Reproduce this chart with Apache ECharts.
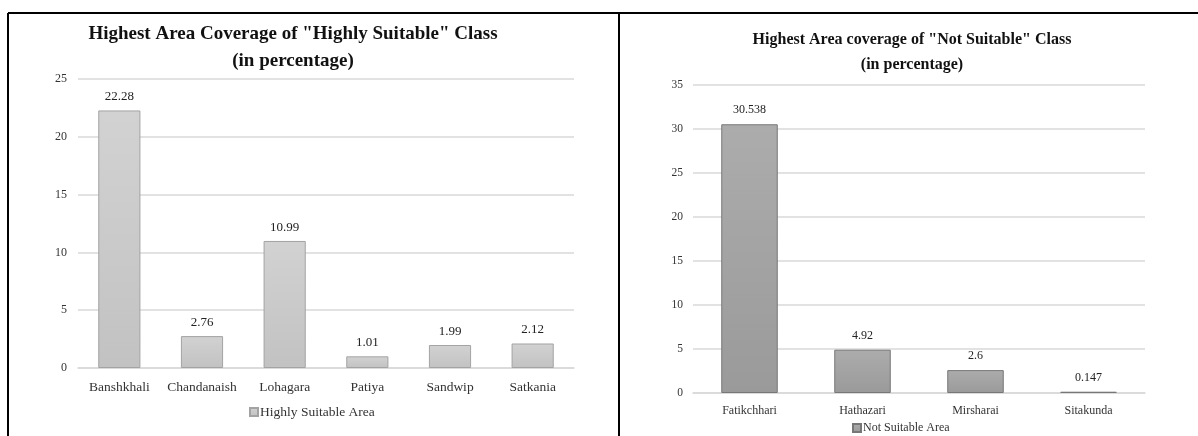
<!DOCTYPE html>
<html>
<head>
<meta charset="utf-8">
<script src="https://cdn.jsdelivr.net/npm/echarts@6/dist/echarts.min.js"></script>
<style>
  html, body { margin: 0; padding: 0; background: #fff; }
  #main { width: 1198px; height: 436px; }
</style>
</head>
<body>
<div id="main"></div>
<script>
// left chart: highly suitable
var hsCategories = ['Banshkhali', 'Chandanaish', 'Lohagara', 'Patiya', 'Sandwip', 'Satkania'];
var hsValues = [22.28, 2.76, 10.99, 1.01, 1.99, 2.12];
var hsAxis = { min: 0, max: 25, interval: 5 };

// right chart: not suitable
var nsCategories = ['Fatikchhari', 'Hathazari', 'Mirsharai', 'Sitakunda'];
var nsValues = [30.538, 4.92, 2.6, 0.147];
var nsAxis = { min: 0, max: 35, interval: 5 };

var serif = 'Liberation Serif, Times New Roman, serif';
var gridLine = { lineStyle: { color: '#d9d9d9', width: 1.5 } };

function grad(top, bottom) {
    return new echarts.graphic.LinearGradient(0, 0, 0, 1, [
        { offset: 0, color: top },
        { offset: 1, color: bottom }
    ]);
}

var myChart = echarts.init(document.getElementById('main'));

var option = {
    backgroundColor: '#fff',
    animation: false,
    title: [{
        text: 'Highest Area Coverage of "Highly Suitable" Class\n(in percentage)',
        left: 293,
        top: 21,
        padding: 0,
        textAlign: 'center',
        textStyle: { fontFamily: serif, fontWeight: 'bold', fontSize: 19, lineHeight: 27, color: '#111' }
    }, {
        text: 'Highest Area coverage of "Not Suitable" Class\n(in percentage)',
        left: 912,
        top: 27,
        padding: 0,
        textAlign: 'center',
        textStyle: { fontFamily: serif, fontWeight: 'bold', fontSize: 16, lineHeight: 25, color: '#111' }
    }],
    legend: [{
        data: ['Highly Suitable Area'],
        left: 249,
        top: 405,
        padding: 0,
        itemWidth: 8,
        itemHeight: 8,
        icon: 'rect',
        textStyle: { fontFamily: serif, fontSize: 13.5, color: '#333', padding: [0, 0, 0, -3] }
    }, {
        data: ['Not Suitable Area'],
        left: 852,
        top: 422,
        padding: 0,
        itemWidth: 8,
        itemHeight: 8,
        icon: 'rect',
        textStyle: { fontFamily: serif, fontSize: 12, color: '#333', padding: [0, 0, 0, -3] }
    }],
    grid: [
        { left: 78, right: 624, top: 79, bottom: 68 },
        { left: 693, right: 53, top: 85, bottom: 43 }
    ],
    xAxis: [{
        type: 'category',
        gridIndex: 0,
        data: hsCategories,
        axisTick: { show: false },
        axisLine: gridLine,
        axisLabel: { interval: 0, fontFamily: serif, fontSize: 13.5, color: '#333', margin: 12 }
    }, {
        type: 'category',
        gridIndex: 1,
        data: nsCategories,
        axisTick: { show: false },
        axisLine: gridLine,
        axisLabel: { interval: 0, fontFamily: serif, fontSize: 12, color: '#333', margin: 12 }
    }],
    yAxis: [{
        type: 'value',
        gridIndex: 0,
        min: hsAxis.min,
        max: hsAxis.max,
        interval: hsAxis.interval,
        splitLine: gridLine,
        axisLabel: { fontFamily: serif, fontSize: 12, color: '#333', margin: 11 }
    }, {
        type: 'value',
        gridIndex: 1,
        min: nsAxis.min,
        max: nsAxis.max,
        interval: nsAxis.interval,
        splitLine: gridLine,
        axisLabel: { fontFamily: serif, fontSize: 11.5, color: '#333', margin: 10 }
    }],
    series: [{
        name: 'Highly Suitable Area',
        type: 'bar',
        xAxisIndex: 0,
        yAxisIndex: 0,
        data: hsValues,
        barWidth: '51%',
        itemStyle: { color: grad('#d2d2d2', '#c2c2c2'), borderColor: '#a3a3a3', borderWidth: 1 },
        label: { show: true, position: 'top', distance: 7, fontFamily: serif, fontSize: 13, color: '#222' }
    }, {
        name: 'Not Suitable Area',
        type: 'bar',
        xAxisIndex: 1,
        yAxisIndex: 1,
        data: nsValues,
        barWidth: '50%',
        itemStyle: { color: grad('#acacac', '#9a9a9a'), borderColor: '#777', borderWidth: 1 },
        label: { show: true, position: 'top', distance: 8, fontFamily: serif, fontSize: 12, color: '#222' }
    }],
    // panel frame lines
    graphic: [
        { type: 'line', shape: { x1: 8, y1: 13, x2: 1198, y2: 13 }, style: { stroke: '#000', lineWidth: 2 } },
        { type: 'line', shape: { x1: 8, y1: 13, x2: 8, y2: 436 }, style: { stroke: '#000', lineWidth: 2 } },
        { type: 'line', shape: { x1: 619, y1: 13, x2: 619, y2: 436 }, style: { stroke: '#000', lineWidth: 2 } }
    ]
};

myChart.setOption(option);
</script>
</body>
</html>
